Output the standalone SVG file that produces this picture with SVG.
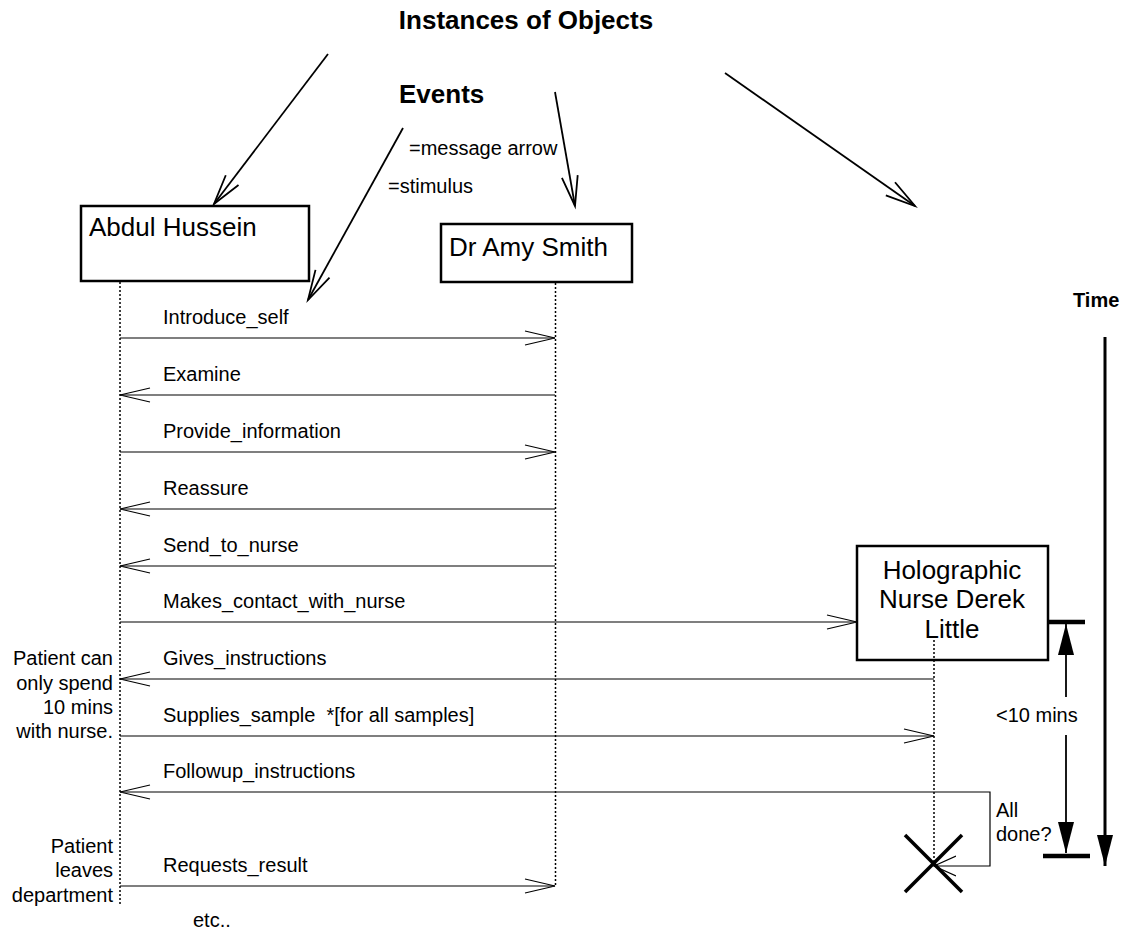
<svg xmlns="http://www.w3.org/2000/svg" width="1122" height="933" viewBox="0 0 1122 933">
<style>
text{font-family:"Liberation Sans",Arial,sans-serif;fill:#000}
.h{font-size:26px;font-weight:bold}
.t{font-size:20px;font-weight:bold}
.n{font-size:26px}
.m{font-size:20px}
.box{fill:#fff;stroke:#000;stroke-width:2.5}
.life{stroke:#000;stroke-width:1.5;stroke-dasharray:2 2;fill:none}
.msg{stroke:#000;stroke-width:1.2;fill:none}
.ptr{stroke:#000;stroke-width:1.8;fill:none}
.thick{stroke:#000;stroke-width:4.5;fill:none}
.r{text-anchor:end}
.c{text-anchor:middle}
</style>
<defs>
<marker id="open" markerUnits="userSpaceOnUse" markerWidth="40" markerHeight="20" refX="31" refY="8" orient="auto" viewBox="0 0 40 16">
<path d="M1 1 L31 8 L1 15" fill="none" stroke="#000" stroke-width="1.2"/>
</marker>
<marker id="ptrhead" markerUnits="userSpaceOnUse" markerWidth="40" markerHeight="24" refX="31" refY="10" orient="auto" viewBox="0 0 40 20">
<path d="M1 2 L31 10 L1 18" fill="none" stroke="#000" stroke-width="1.8"/>
</marker>
<marker id="fill" markerUnits="userSpaceOnUse" markerWidth="32" markerHeight="24" refX="31" refY="10" orient="auto" viewBox="0 0 32 20">
<path d="M0 2 L31 10 L0 18 Z" fill="#000"/>
</marker>
<marker id="selfhead" markerUnits="userSpaceOnUse" markerWidth="30" markerHeight="24" refX="22" refY="10" orient="auto" viewBox="0 0 30 20">
<path d="M0 0 L22 10 L0 20" fill="none" stroke="#000" stroke-width="1.2"/>
</marker>
</defs>

<g id="headings">
<text class="h c" x="526" y="29">Instances of Objects</text>
<text class="h" x="399" y="103">Events</text>
<text class="m" x="409" y="155">=message arrow</text>
<text class="m" x="388" y="193">=stimulus</text>
<text class="t" x="1073" y="307">Time</text>
</g>

<g id="pointers">
<line class="ptr" x1="328" y1="54" x2="214" y2="204" marker-end="url(#ptrhead)"/>
<line class="ptr" x1="403" y1="128" x2="308" y2="300" marker-end="url(#ptrhead)"/>
<line class="ptr" x1="555" y1="92" x2="575" y2="206" marker-end="url(#ptrhead)"/>
<line class="ptr" x1="725" y1="73" x2="915" y2="206" marker-end="url(#ptrhead)"/>
</g>

<g id="abdul">
<rect class="box" x="81" y="206" width="228" height="75"/>
<text class="n" x="89" y="236">Abdul Hussein</text>
<line class="life" x1="120" y1="282" x2="120" y2="904"/>
</g>

<g id="amy">
<rect class="box" x="441" y="224" width="191" height="58"/>
<text class="n" x="449" y="256">Dr Amy Smith</text>
<line class="life" x1="555.5" y1="283" x2="555.5" y2="886"/>
</g>

<g id="nurse">
<rect class="box" x="857" y="546" width="191" height="114"/>
<text class="n c" x="952" y="579">Holographic</text>
<text class="n c" x="952" y="608">Nurse Derek</text>
<text class="n c" x="952" y="638">Little</text>
<line class="life" x1="934" y1="640" x2="934" y2="863"/>
<g id="destroy">
<line stroke="#000" stroke-width="3.5" x1="905" y1="835" x2="962" y2="892"/>
<line stroke="#000" stroke-width="3.5" x1="962" y1="835" x2="905" y2="892"/>
</g>
</g>

<g id="connectors">
<line class="msg" x1="120" y1="338" x2="555" y2="338" marker-end="url(#open)"/>
<line class="msg" x1="555" y1="395" x2="120" y2="395" marker-end="url(#open)"/>
<line class="msg" x1="120" y1="452" x2="555" y2="452" marker-end="url(#open)"/>
<line class="msg" x1="555" y1="509" x2="120" y2="509" marker-end="url(#open)"/>
<line class="msg" x1="555" y1="566" x2="120" y2="566" marker-end="url(#open)"/>
<line class="msg" x1="120" y1="622" x2="857" y2="622" marker-end="url(#open)"/>
<line class="msg" x1="934" y1="679" x2="120" y2="679" marker-end="url(#open)"/>
<line class="msg" x1="120" y1="736" x2="934" y2="736" marker-end="url(#open)"/>
<line class="msg" x1="934" y1="792" x2="120" y2="792" marker-end="url(#open)"/>
<line class="msg" x1="120" y1="886" x2="555" y2="886" marker-end="url(#open)"/>
<path class="msg" d="M934 792 H990 V866 H934" marker-end="url(#selfhead)"/>
</g>

<g id="labels">
<text class="m" x="163" y="324">Introduce_self</text>
<text class="m" x="163" y="381">Examine</text>
<text class="m" x="163" y="438">Provide_information</text>
<text class="m" x="163" y="495">Reassure</text>
<text class="m" x="163" y="552">Send_to_nurse</text>
<text class="m" x="163" y="608">Makes_contact_with_nurse</text>
<text class="m" x="163" y="665">Gives_instructions</text>
<text class="m" x="163" y="722" xml:space="preserve">Supplies_sample  *[for all samples]</text>
<text class="m" x="163" y="778">Followup_instructions</text>
<text class="m" x="163" y="872">Requests_result</text>
<text class="m" x="996" y="817">All</text>
<text class="m" x="996" y="841">done?</text>
</g>

<g id="notes">
<text class="m r" x="113" y="665">Patient can</text>
<text class="m r" x="113" y="690">only spend</text>
<text class="m r" x="113" y="714">10 mins</text>
<text class="m r" x="113" y="738">with nurse.</text>
<text class="m r" x="113" y="853">Patient</text>
<text class="m r" x="113" y="877">leaves</text>
<text class="m r" x="113" y="902">department</text>
<text class="m" x="193" y="927">etc..</text>
</g>

<g id="timing">
<line class="thick" x1="1049" y1="622" x2="1085" y2="622"/>
<line class="thick" x1="1043" y1="856" x2="1090" y2="856"/>
<line stroke="#000" stroke-width="1.8" x1="1066" y1="697" x2="1066" y2="624" marker-end="url(#fill)"/>
<line stroke="#000" stroke-width="1.8" x1="1066" y1="735" x2="1066" y2="853" marker-end="url(#fill)"/>
<text class="m" x="996" y="722">&lt;10 mins</text>
<line stroke="#000" stroke-width="3" x1="1105" y1="337" x2="1105" y2="866" marker-end="url(#fill)"/>
</g>
</svg>
